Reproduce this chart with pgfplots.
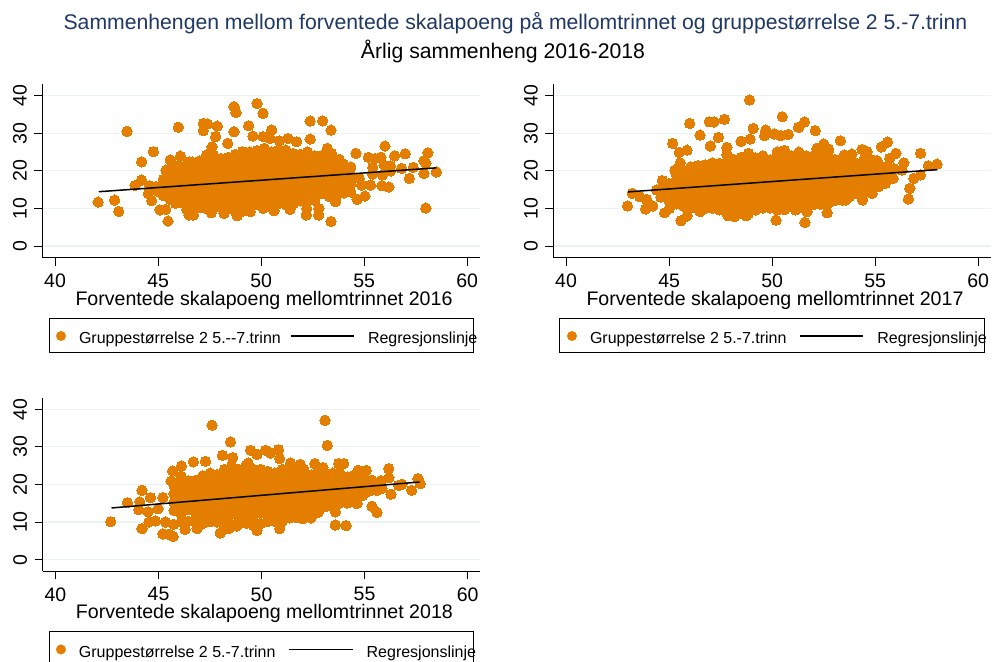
\documentclass[border=0pt]{standalone}
\usepackage{pgfplots}
\pgfplotsset{compat=1.18}
\usepackage{fontspec}
\setmainfont{Liberation Sans}
\definecolor{stOrange}{HTML}{E37E00}
\definecolor{stGrid}{HTML}{EAF2F3}
\definecolor{stTitle}{HTML}{1F3864}
\pgfplotsset{
  panel/.style={
    scale only axis, width=437.7pt, height=173.7pt, anchor=south west,
    xmin=39.38, xmax=60.62, ymin=-3.1, ymax=43.1,
    clip mode=individual,
    axis x line*=bottom, axis y line*=left,
    axis line style={line width=0.9pt,-},
    xtick={40,45,50,55,60}, ytick={0,10,20,30,40},
    tick align=outside, major tick length=8pt,
    tick style={line width=0.9pt,black},
    xmajorgrids=false, ymajorgrids=true,
    grid style={stGrid,line width=1.2pt},
    /pgf/number format/assume math mode=true,
    ticklabel style={font=\fontsize{19.5}{20}\selectfont},
    yticklabel style={rotate=90,anchor=south,yshift=4pt},
    xticklabel style={anchor=center,yshift=-15pt},
    xlabel style={font=\fontsize{19.6}{20}\selectfont,anchor=center,at={(axis description cs:0.5065,-0.245)}},
    legend columns=4, legend cell align=left,
    legend style={draw=black,line width=0.8pt,inner sep=0pt,outer sep=0pt,anchor=north west,
      font=\fontsize{16}{17}\selectfont,
      nodes={inner sep=0pt,outer sep=0pt},/tikz/column sep=0pt,/tikz/row sep=0pt},
  },
  scat/.style={only marks,mark=*,mark size=5.2pt,mark options={fill=stOrange,draw=stOrange,line width=0pt}},
  reg/.style={black,line width=1.5pt,no markers},
}
\newcommand{\dotimg}[2]{\path[draw=none] (0,-10.7pt) rectangle (#2,23.7pt);\fill[stOrange,draw=none] (#1,6pt) circle (5pt);}
\newcommand{\lineimg}[2]{\path[draw=none] (0,-10.7pt) rectangle (#2,23.7pt);\draw[black,line width=1.4pt] (0,6pt) -- (#1,6pt);}
\newcommand{\lt}[2]{\makebox[#1][l]{\raisebox{6.5pt}{#2}}}
\begin{document}
\begin{tikzpicture}[x=1pt,y=1pt]
\useasboundingbox (0,0) rectangle (992,661);
\clip (0,0) rectangle (992,661);
\fill[white] (0,0) rectangle (992,661);
\node[text=stTitle,font=\fontsize{21.2}{22}\selectfont,anchor=center] at (515.5,637.5) {Sammenhengen mellom forventede skalapoeng på mellomtrinnet og gruppestørrelse 2 5.-7.trinn};
\node[text=black,font=\fontsize{21.2}{22}\selectfont,anchor=center] at (503,610) {Årlig sammenheng 2016-2018};

% ---------- 2016
\begin{axis}[panel,at={(42.3pt,403.3pt)},xlabel={Forventede skalapoeng mellomtrinnet 2016},
  legend style={at={(axis description cs:0.016,-0.349)}}]
\addplot[scat,legend image code/.code={\dotimg{11.7pt}{29.7pt}}] coordinates {
(42.09,11.7)(42.89,12.2)(43.09,9.2)(43.49,30.5)(43.88,16.1)(44.2,17.55)(44.2,22.4)(44.77,25.1)
(44.53,14.0)(44.69,12.05)(45.09,9.6)(45.37,9.75)(45.48,6.65)(45.59,22.9)(45.38,20.2)(45.98,31.6)
(46.08,23.9)(46.5,22.4)(47.19,32.6)(47.39,32.45)(47.19,30.7)(47.87,31.9)(47.79,29.1)(47.62,26.4)
(48.38,27.3)(48.68,30.4)(48.68,37.05)(48.78,35.5)(49.39,32)(49.6,29.25)(49.8,37.9)(50.09,35.3)
(50.51,30.85)(50.1,29.1)(50.43,28.6)(50.88,28)(51.3,28.6)(51.72,27.75)(52.38,33.25)(52.98,33.3)
(53.39,30.85)(52.38,28.45)(53.21,26)(53.42,24.65)(53.79,23.05)(54.6,24.65)(55.2,23.6)(55.52,23.3)
(55.81,23.6)(56.01,26.6)(56.48,24)(56.99,24.55)(58.09,24.8)(57.9,22.7)(57.99,22)(57.38,20.9)
(56.82,20.65)(56.28,21.3)(55.96,21.55)(55.41,20.9)(55.41,19.15)(55.89,18.9)(56.28,19.95)(57.9,19.3)
(58.5,19.7)(57.19,18)(55.86,16.05)(56.2,15.7)(55.31,16.2)(54.87,16.2)(54.76,18)(55.04,13.3)
(54.66,12.4)(57.99,10.1)(53.39,6.55)(52.79,8.25)(52.19,8.25)(52.8,10)(52.21,10)(53.61,11.8)
(50.62,9.4)(51.4,9.75)(50.1,10)(49.47,9.15)(48.84,8.05)(48.2,8.7)(47.58,8.85)(46.71,8.25)
(46.5,8.25)(46.39,9.75)(45.85,11.35)(44.9,15.8)(45.25,13.4)(45.25,15.9)(45.25,17.7)(44.6,16)(45.0,14.5)
(45.6,12.3)(45.6,14.5)(45.6,16.8)(45.6,18.9)(45.6,20.3)
(45.95,11.6)(45.95,13.7)(45.95,15.9)(45.95,18.2)(45.95,20.4)(45.95,21.4)
(46.3,11.2)(46.3,13.1)(46.3,15.4)(46.3,17.3)(46.3,19.6)(46.3,21.2)
(46.65,10.1)(46.65,12.4)(46.65,14.6)(46.65,16.7)(46.65,18.9)(46.65,21.0)(46.65,22.3)
(47.0,10.2)(47.0,11.9)(47.0,14.2)(47.0,16.3)(47.0,18.5)(47.0,20.6)(47.0,22.6)
(47.35,10.0)(47.35,12.2)(47.35,14.3)(47.35,16.6)(47.35,18.7)(47.35,20.9)(47.35,23.0)(47.35,24.2)
(47.7,10.1)(47.7,11.4)(47.7,13.6)(47.7,15.8)(47.7,18.0)(47.7,20.2)(47.7,22.3)(47.7,24.1)
(48.05,10.3)(48.05,12.2)(48.05,14.5)(48.05,16.5)(48.05,18.8)(48.05,20.9)(48.05,23.3)
(48.4,10.0)(48.4,11.6)(48.4,13.7)(48.4,15.9)(48.4,18.1)(48.4,20.3)(48.4,22.4)(48.4,23.6)
(48.75,9.1)(48.75,11.3)(48.75,13.3)(48.75,15.6)(48.75,17.7)(48.75,19.9)(48.75,22.1)(48.75,24.4)
(49.1,9.3)(49.1,11.0)(49.1,13.2)(49.1,15.4)(49.1,17.6)(49.1,19.8)(49.1,21.9)(49.1,24.1)(49.1,25.1)
(49.45,10.2)(49.45,12.3)(49.45,14.6)(49.45,16.7)(49.45,18.9)(49.45,21.1)(49.45,23.2)(49.45,25.0)
(49.8,11.0)(49.8,13.1)(49.8,15.4)(49.8,17.5)(49.8,19.7)(49.8,21.9)(49.8,24.1)(49.8,25.4)
(50.15,11.0)(50.15,12.3)(50.15,14.4)(50.15,16.6)(50.15,18.8)(50.15,21.0)(50.15,23.1)(50.15,25.2)(50.15,26.0)
(50.5,11.1)(50.5,13.2)(50.5,15.4)(50.5,17.6)(50.5,19.8)(50.5,21.9)(50.5,24.0)(50.5,25.1)
(50.85,11.3)(50.85,12.4)(50.85,14.6)(50.85,16.8)(50.85,18.9)(50.85,21.1)(50.85,23.3)(50.85,25.4)
(51.2,11.0)(51.2,13.1)(51.2,15.3)(51.2,17.5)(51.2,19.6)(51.2,21.8)(51.2,24.0)(51.2,25.5)
(51.55,11.2)(51.55,12.3)(51.55,14.5)(51.55,16.7)(51.55,18.8)(51.55,21.0)(51.55,23.2)(51.55,24.6)
(51.9,12.0)(51.9,13.7)(51.9,15.8)(51.9,18.0)(51.9,20.1)(51.9,22.3)(51.9,24.4)
(52.25,12.1)(52.25,14.5)(52.25,16.6)(52.25,18.8)(52.25,21.0)(52.25,23.2)(52.25,25.0)
(52.6,12.2)(52.6,13.8)(52.6,16.0)(52.6,18.1)(52.6,20.3)(52.6,22.5)(52.6,24.0)
(52.95,14.0)(52.95,15.9)(52.95,17.8)(52.95,20.0)(52.95,22.2)(52.95,24.1)
(53.3,13.2)(53.3,14.9)(53.3,16.9)(53.3,19.1)(53.3,21.3)(53.3,23.0)
(53.65,13.3)(53.65,15.7)(53.65,17.8)(53.65,20.0)(53.65,22.1)
(54.0,14.1)(54.0,16.3)(54.0,18.5)(54.0,20.6)(54.0,21.8)
(54.35,14.4)(54.35,16.6)(54.35,18.9)(54.35,21.0)
};
\addlegendentry{\lt{211.7pt}{Gruppestørrelse 2 5.-{}-7.trinn}}
\addplot[reg,legend image code/.code={\lineimg{62.3pt}{76.6pt}}] coordinates {(42.12,14.45)(58.5,20.8)};
\addlegendentry{\lt{105.4pt}{Regresjonslinje}}
\end{axis}

% ---------- 2017
\begin{axis}[panel,at={(553.3pt,403.3pt)},xlabel={Forventede skalapoeng mellomtrinnet 2017},
  legend style={at={(axis description cs:0.0137,-0.349)}}]
\addplot[scat,legend image code/.code={\dotimg{12.7pt}{30.7pt}}] coordinates {
(42.98,10.65)(43.21,14)(43.58,13.1)(43.86,9.85)(43.91,12.4)(44.2,10.65)(44.39,14.9)(44.67,17.4)
(44.78,8.85)(45.17,27.3)(45.49,24.9)(45.87,25.5)(45.28,20.2)(45.54,22.15)(46,32.6)(46.5,29.5)
(46.95,33.05)(47.18,33)(47.68,33.7)(47.39,28.9)(47,26.6)(47.8,26.25)(48.49,27.85)(48.93,28.45)
(48.9,38.85)(49.08,31.3)(49.69,30.85)(49.63,29.35)(50.11,29.8)(50.42,29.35)(50.78,29.7)(50.49,34.4)
(51.28,31.55)(51.57,33)(52.09,30.7)(52.5,27.15)(52.17,26)(52.74,25.8)(53.31,28)(53.5,24.2)
(53.87,24.45)(54.36,25.7)(54.6,25.1)(55.3,26.35)(55.59,27.65)(56,24.65)(57.2,24.65)(58,21.8)
(57.58,21.35)(56.39,22.15)(55.7,23.3)(55.09,22.7)(56.3,20.2)(55.87,18)(57.2,18.9)(56.87,18)
(56.68,15.35)(56.61,12.5)(55.49,16.65)(55.17,15.8)(54.76,16.65)(54.85,14)(54.39,12.25)(53.58,12.25)
(52.67,8.85)(51.59,6.3)(51.69,9.15)(51.13,9.6)(50.19,6.9)(48.74,8.05)(48.18,7.8)(47.86,8.05)
(46.5,9.15)(45.87,8)(45.58,6.75)(45.01,10)(44.6,13)(44.7,15.2)(55.5,19.8)(55.9,20.6)
(45.0,12.1)(45.0,14.3)(45.0,16.6)
(45.35,11.2)(45.35,13.3)(45.35,15.5)(45.35,17.7)(45.35,19.0)
(45.7,10.6)(45.7,12.4)(45.7,14.6)(45.7,16.8)(45.7,19.0)(45.7,19.6)
(46.05,10.1)(46.05,11.5)(46.05,13.7)(46.05,15.9)(46.05,18.1)(46.05,20.3)(46.05,21.1)
(46.4,10.2)(46.4,12.6)(46.4,14.8)(46.4,17.0)(46.4,19.2)(46.4,21.4)
(46.75,10.0)(46.75,11.7)(46.75,13.9)(46.75,16.1)(46.75,18.3)(46.75,20.4)(46.75,21.6)
(47.1,10.1)(47.1,12.8)(47.1,14.9)(47.1,17.1)(47.1,19.4)(47.1,21.5)(47.1,22.1)
(47.45,9.6)(47.45,11.9)(47.45,14.1)(47.45,16.3)(47.45,18.4)(47.45,20.6)(47.45,22.0)
(47.8,9.1)(47.8,11.1)(47.8,13.2)(47.8,15.4)(47.8,17.6)(47.8,19.7)(47.8,21.9)(47.8,24.4)
(48.15,8.6)(48.15,10.4)(48.15,12.5)(48.15,14.7)(48.15,16.9)(48.15,19.0)(48.15,21.2)(48.15,23.0)
(48.5,8.6)(48.5,11.3)(48.5,13.4)(48.5,15.6)(48.5,17.8)(48.5,20.0)(48.5,22.1)(48.5,23.6)
(48.85,8.7)(48.85,10.6)(48.85,12.7)(48.85,14.9)(48.85,17.1)(48.85,19.3)(48.85,21.4)(48.85,23.6)(48.85,24.6)
(49.2,9.6)(49.2,11.8)(49.2,14.0)(49.2,16.1)(49.2,18.3)(49.2,20.5)(49.2,22.6)(49.2,23.5)
(49.55,10.1)(49.55,12.9)(49.55,15.1)(49.55,17.2)(49.55,19.4)(49.55,21.6)(49.55,24.0)
(49.9,10.1)(49.9,12.0)(49.9,14.2)(49.9,16.4)(49.9,18.5)(49.9,20.7)(49.9,22.9)
(50.25,9.6)(50.25,11.2)(50.25,13.3)(50.25,15.5)(50.25,17.7)(50.25,19.9)(50.25,22.0)(50.25,24.2)(50.25,25.0)
(50.6,9.7)(50.6,12.4)(50.6,14.5)(50.6,16.7)(50.6,18.9)(50.6,21.0)(50.6,23.2)(50.6,25.4)
(50.95,10.6)(50.95,11.6)(50.95,13.7)(50.95,15.9)(50.95,18.1)(50.95,20.2)(50.95,22.4)(50.95,24.0)
(51.3,10.1)(51.3,12.7)(51.3,14.8)(51.3,17.0)(51.3,19.2)(51.3,21.3)(51.3,23.5)(51.3,25.0)
(51.65,10.2)(51.65,11.9)(51.65,14.1)(51.65,16.2)(51.65,18.4)(51.65,20.6)(51.65,22.7)(51.65,24.0)
(52.0,11.0)(52.0,13.1)(52.0,15.3)(52.0,17.4)(52.0,19.6)(52.0,21.8)(52.0,24.0)
(52.35,11.1)(52.35,12.4)(52.35,14.5)(52.35,16.7)(52.35,18.8)(52.35,21.0)(52.35,23.2)(52.35,25.0)
(52.7,11.2)(52.7,13.5)(52.7,15.7)(52.7,17.9)(52.7,20.0)(52.7,22.2)(52.7,24.9)
(53.05,12.1)(53.05,14.7)(53.05,16.9)(53.05,19.0)(53.05,21.2)(53.05,23.0)
(53.4,12.2)(53.4,13.9)(53.4,16.0)(53.4,18.2)(53.4,20.4)(53.4,22.6)
(53.75,13.1)(53.75,15.2)(53.75,17.3)(53.75,19.5)(53.75,21.7)
(54.1,14.0)(54.1,16.3)(54.1,18.5)(54.1,20.7)(54.1,22.0)
(54.45,14.1)(54.45,15.6)(54.45,17.7)(54.45,19.9)(54.45,22.0)(54.45,23.0)
(54.8,15.1)(54.8,17.0)(54.8,19.2)(54.8,21.3)(54.8,23.0)
(55.15,16.1)(55.15,18.3)(55.15,20.5)(55.15,22.0)
(55.5,17.1)(55.5,18.9)(55.5,21.0)
};
\addlegendentry{\lt{209pt}{Gruppestørrelse 2 5.-7.trinn}}
\addplot[reg,legend image code/.code={\lineimg{63.7pt}{77.7pt}}] coordinates {(43,14.4)(58,20.3)};
\addlegendentry{\lt{106.6pt}{Regresjonslinje}}
\end{axis}

% ---------- 2018
\begin{axis}[panel,at={(42.7pt,89.7pt)},xlabel={Forventede skalapoeng mellomtrinnet 2018},
  legend style={at={(axis description cs:0.015,-0.348)}}]
\addplot[scat,legend image code/.code={\dotimg{11.7pt}{29.7pt}}] coordinates {
(42.68,10.1)(43.49,15.15)(44.09,15.35)(44.2,18.45)(44.04,13.3)(44.61,16.5)(44.49,12.7)(44.53,10)
(44.2,8.25)(44.85,10.3)(45.21,16.5)(44.98,13.55)(45.34,10)(45.74,9.4)(45.21,6.85)(45.5,6.75)
(45.71,6.2)(46.29,8)(45.69,23.6)(45.61,20.9)(46.11,24.9)(46.69,26)(47.28,26.15)(47.6,35.75)
(48.49,31.3)(48.1,27.75)(48.6,27.15)(49.47,29.1)(49.78,28)(50.19,29.1)(50.43,28.35)(50.82,29.25)
(50.88,26.85)(49.35,25.7)(51.4,25.7)(51.88,25.35)(52.58,25.55)(52.98,24.5)(53.08,37.05)(53.19,30.4)
(53.74,25.55)(53.99,25.55)(54.68,23.75)(55.08,23.75)(56.17,24.2)(56.18,21.8)(57.59,21.55)(57.7,20.2)
(57.28,18.45)(56.81,20.05)(56.65,19.75)(56.28,17.4)(55.84,18.9)(55.6,18.45)(54.91,17.1)(54.63,14.9)
(55.36,14.2)(55.6,12.6)(54.1,9.05)(53.58,9.2)(53.58,12.7)(54.15,15.05)(50.88,8.25)(49.78,7.8)
(48,7.1)(46.87,8.25)(48.41,8.25)(48.81,8.95)(52.01,10.9)(55.36,21.1)(55.8,21)(55.5,20)
(45.75,13.1)(45.75,15.3)(45.75,17.6)(45.75,19.8)
(46.1,10.1)(46.1,12.2)(46.1,14.4)(46.1,16.6)(46.1,18.8)(46.1,21.0)(46.1,22.2)
(46.45,10.2)(46.45,13.3)(46.45,15.5)(46.45,17.7)(46.45,19.8)(46.45,21.0)
(46.8,10.1)(46.8,12.4)(46.8,14.6)(46.8,16.8)(46.8,18.9)(46.8,21.1)
(47.15,9.6)(47.15,11.4)(47.15,13.6)(47.15,15.8)(47.15,18.0)(47.15,20.1)(47.15,22.3)
(47.5,10.1)(47.5,12.6)(47.5,14.8)(47.5,17.0)(47.5,19.1)(47.5,21.3)(47.5,23.0)
(47.85,10.0)(47.85,11.7)(47.85,13.9)(47.85,16.1)(47.85,18.2)(47.85,20.4)(47.85,22.6)
(48.2,9.1)(48.2,11.0)(48.2,13.1)(48.2,15.3)(48.2,17.5)(48.2,19.6)(48.2,21.8)(48.2,24.0)
(48.55,9.2)(48.55,12.1)(48.55,14.3)(48.55,16.4)(48.55,18.6)(48.55,20.8)(48.55,22.9)(48.55,24.9)
(48.9,9.6)(48.9,11.3)(48.9,13.4)(48.9,15.6)(48.9,17.8)(48.9,20.0)(48.9,22.1)(48.9,24.0)
(49.25,9.7)(49.25,12.4)(49.25,14.6)(49.25,16.8)(49.25,18.9)(49.25,21.1)(49.25,23.3)(49.25,25.0)
(49.6,9.1)(49.6,11.5)(49.6,13.7)(49.6,15.9)(49.6,18.0)(49.6,20.2)(49.6,22.4)(49.6,24.0)
(49.95,9.6)(49.95,12.4)(49.95,14.6)(49.95,16.8)(49.95,19.0)(49.95,21.1)(49.95,23.3)(49.95,24.0)
(50.3,10.1)(50.3,11.6)(50.3,13.8)(50.3,15.9)(50.3,18.1)(50.3,20.3)(50.3,22.4)(50.3,23.5)
(50.65,10.2)(50.65,12.7)(50.65,14.9)(50.65,17.1)(50.65,19.2)(50.65,21.4)(50.65,23.0)
(51.0,10.1)(51.0,11.8)(51.0,14.0)(51.0,16.1)(51.0,18.3)(51.0,20.5)(51.0,22.6)(51.0,24.0)
(51.35,11.1)(51.35,13.2)(51.35,15.4)(51.35,17.6)(51.35,19.7)(51.35,21.9)(51.35,24.0)
(51.7,11.2)(51.7,12.5)(51.7,14.6)(51.7,16.8)(51.7,18.9)(51.7,21.1)(51.7,23.3)(51.7,24.0)
(52.05,11.3)(52.05,13.6)(52.05,15.8)(52.05,17.9)(52.05,20.1)(52.05,22.3)(52.05,24.0)
(52.4,11.1)(52.4,12.9)(52.4,15.0)(52.4,17.2)(52.4,19.3)(52.4,21.5)(52.4,22.5)
(52.75,12.6)(52.75,14.2)(52.75,16.3)(52.75,18.5)(52.75,20.6)(52.75,22.8)(52.75,24.0)
(53.1,14.1)(53.1,15.5)(53.1,17.6)(53.1,19.8)(53.1,21.9)(53.1,23.0)
(53.45,14.2)(53.45,16.6)(53.45,18.7)(53.45,20.9)(53.45,23.0)
(53.8,15.1)(53.8,17.6)(53.8,19.8)(53.8,21.9)(53.8,23.0)
(54.15,16.2)(54.15,18.6)(54.15,20.8)(54.15,22.0)
(54.5,17.1)(54.5,19.6)(54.5,21.8)(54.5,22.5)
(54.85,18.1)(54.85,20.3)(54.85,22.0)
(55.2,18.2)(55.2,20.4)(55.2,21.0)
};
\addlegendentry{\lt{209pt}{Gruppestørrelse 2 5.-7.trinn}}
\addplot[reg,legend image code/.code={\lineimg{64pt}{78pt}}] coordinates {(42.72,13.75)(57.67,20.65)};
\addlegendentry{\lt{106.7pt}{Regresjonslinje}}
\end{axis}
\end{tikzpicture}
\end{document}
